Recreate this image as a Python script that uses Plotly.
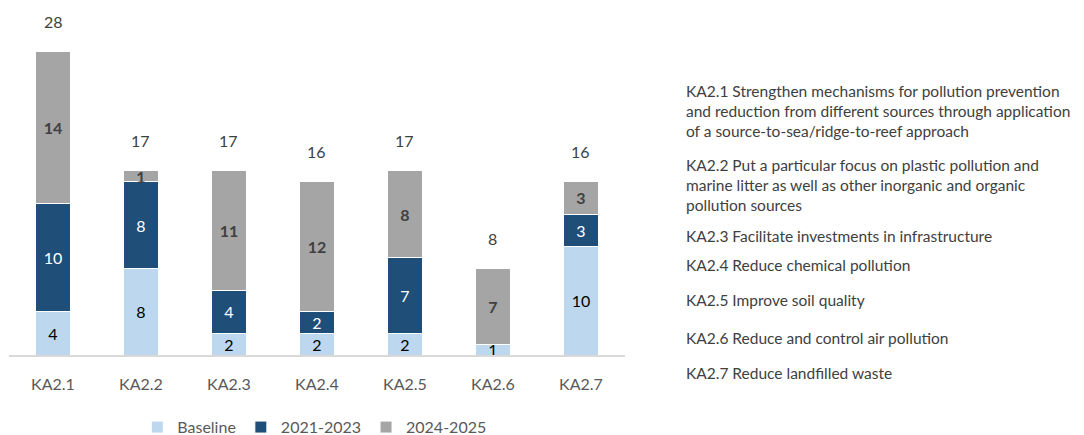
import plotly.graph_objects as go

# Data
categories = ["KA2.1", "KA2.2", "KA2.3", "KA2.4", "KA2.5", "KA2.6", "KA2.7"]
baseline = [4, 8, 2, 2, 2, 1, 10]
period_2021_2023 = [10, 8, 4, 2, 7, 0, 3]
period_2024_2025 = [14, 1, 11, 12, 8, 7, 3]
totals = [b + p1 + p2 for b, p1, p2 in zip(baseline, period_2021_2023, period_2024_2025)]

descriptions = [
    "KA2.1 Strengthen mechanisms for pollution prevention<br>and reduction from different sources through application<br>of a source-to-sea/ridge-to-reef approach",
    "KA2.2 Put a particular focus on plastic pollution and<br>marine litter as well as other inorganic and organic<br>pollution sources",
    "KA2.3 Facilitate investments in infrastructure",
    "KA2.4 Reduce chemical pollution",
    "KA2.5 Improve soil quality",
    "KA2.6 Reduce and control air pollution",
    "KA2.7 Reduce landfilled waste",
]
# vertical centre of each description block (paper coords)
desc_y = [0.751, 0.523, 0.366, 0.277, 0.169, 0.052, -0.055]

FONT = "Lato, 'Open Sans', sans-serif"


def labels(values):
    return [str(v) if v else "" for v in values]


series = [
    ("Baseline", baseline, "#BDD7EE", dict(color="#000000", size=16, family=FONT)),
    ("2021-2023", period_2021_2023, "#1F4E79", dict(color="#FFFFFF", size=16, family=FONT)),
    ("2024-2025", period_2024_2025, "#A5A5A5", dict(color="#404040", size=16, family=FONT, weight="bold")),
]

fig = go.Figure()
for name, vals, color, tfont in series:
    fig.add_trace(go.Bar(
        name=name,
        x=categories,
        y=vals,
        marker=dict(color=color, line=dict(color="#FFFFFF", width=1)),
        text=labels(vals),
        textposition="inside",
        insidetextanchor="middle",
        textangle=0,
        constraintext="none",
        textfont=tfont,
        width=0.4,
        hoverinfo="skip",
    ))

# totals above bars
for cat, tot in zip(categories, totals):
    fig.add_annotation(
        x=cat, y=tot, xref="x", yref="y",
        text=str(tot), showarrow=False,
        yanchor="middle", yshift=30,
        font=dict(size=16, color="#404040", family=FONT),
    )

# descriptions on the right
for txt, yy in zip(descriptions, desc_y):
    fig.add_annotation(
        x=0.628, y=yy, xref="paper", yref="paper",
        text=txt, showarrow=False, align="left",
        xanchor="left", yanchor="middle",
        font=dict(size=15.5, color="#404040", family=FONT),
    )

fig.update_layout(
    barmode="stack",
    width=1084,
    height=435,
    margin=dict(l=9, r=0, t=30, b=80, autoexpand=False),
    plot_bgcolor="white",
    paper_bgcolor="white",
    font=dict(family=FONT, color="#595959"),
    xaxis=dict(
        domain=[0, 0.573],
        range=[-0.5, 6.5],
        showline=True, linecolor="#D9D9D9", linewidth=2,
        ticks="", ticklabelstandoff=14,
        tickfont=dict(size=16, color="#595959"),
        showgrid=False,
    ),
    yaxis=dict(range=[0, 30], visible=False, showgrid=False),
    legend=dict(
        orientation="h",
        x=0.284, xanchor="center", xref="paper",
        y=0.018, yanchor="middle", yref="container",
        font=dict(size=16, color="#595959"),
        traceorder="normal",
    ),
    showlegend=True,
)

# drop the browser's default body margin so the figure sits at the page corner
fig.write_html("out.html", config={"displayModeBar": False},
               post_script="document.body.style.margin='0';")
